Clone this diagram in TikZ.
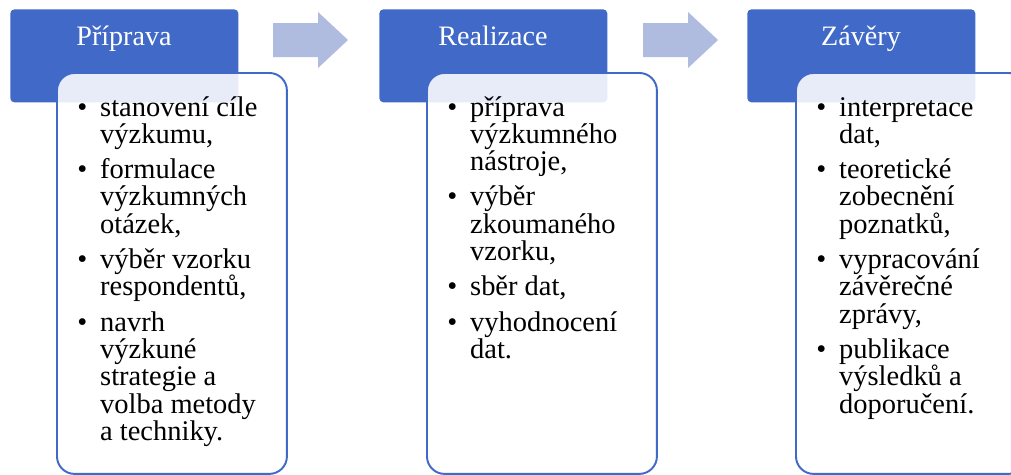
\documentclass[tikz,border=0pt]{standalone}
\usepackage{fontspec}
\setmainfont{Liberation Serif}
\usetikzlibrary{positioning}
\definecolor{hdrblue}{HTML}{4169C8}
\definecolor{arrblue}{HTML}{AFBBDF}
\newcommand{\bul}{\makebox[13pt][l]{\textbullet}}
\newcommand{\ind}{\hspace*{13pt}}
\newcommand{\itemlist}[1]{\parbox[t]{4.2cm}{\raggedright #1}}
\begin{document}
\begin{tikzpicture}[x=0.02cm,y=-0.02cm,
    hdr/.style={fill=hdrblue,rounded corners=2.3pt,minimum width=4.56cm,minimum height=1.86cm,anchor=north west,inner sep=0pt},
    hdrtext/.style={text=white,anchor=base,inner sep=0pt,font=\fontsize{16}{19}\selectfont},
    card/.style={draw=hdrblue,line width=1.1pt,fill=white,fill opacity=0.88,rounded corners=10pt,minimum width=4.6cm,minimum height=8.02cm,anchor=north west,inner sep=0pt},
    items/.style={anchor=base west,inner sep=0pt,font=\fontsize{16.2}{15.6}\selectfont}]
    \clip (0,0) rectangle (1011,474);
    % headers
    \node[hdr] (hdrPrip) at (10,9) {};
    \node[hdr] (hdrReal) at (379,9) {};
    \node[hdr] (hdrZav) at (747,9) {};
    \node[hdrtext] (tPrip) at (124,45) {Příprava};
    \node[hdrtext] (tReal) at (493,45) {Realizace};
    \node[hdrtext] (tZav) at (861,45) {Závěry};
    % arrows between the stages
    \foreach \ax in {273,643}
        \fill[arrblue] (\ax,23) -- ++(45,0) -- ++(0,-11) -- ++(30,28) -- ++(-30,28) -- ++(0,-11) -- ++(-45,0) -- cycle;
    % cards
    \node[card] (cardPrip) at (56,72) {};
    \node[card] (cardReal) at (426,72) {};
    \node[card] (cardZav) at (795,72) {};
    \node[items] (listPrip) at (77,116) {\itemlist{\bul stanovení cíle\\ \ind výzkumu,\\[4.4pt]
        \bul formulace\\ \ind výzkumných\\ \ind otázek,\\[4.4pt]
        \bul výběr vzorku\\ \ind respondentů,\\[4.4pt]
        \bul navrh\\ \ind výzkuné\\ \ind strategie a\\ \ind volba metody\\ \ind a techniky.}};
    \node[items] (listReal) at (447,116) {\itemlist{\bul příprava\\ \ind výzkumného\\ \ind nástroje,\\[4.4pt]
        \bul výběr\\ \ind zkoumaného\\ \ind vzorku,\\[4.4pt]
        \bul sběr dat,\\[4.4pt]
        \bul vyhodnocení\\ \ind dat.}};
    \node[items] (listZav) at (816,116) {\itemlist{\bul interpretace\\ \ind dat,\\[4.4pt]
        \bul teoretické\\ \ind zobecnění\\ \ind poznatků,\\[4.4pt]
        \bul vypracování\\ \ind závěrečné\\ \ind zprávy,\\[4.4pt]
        \bul publikace\\ \ind výsledků a\\ \ind doporučení.}};
\end{tikzpicture}
\end{document}
